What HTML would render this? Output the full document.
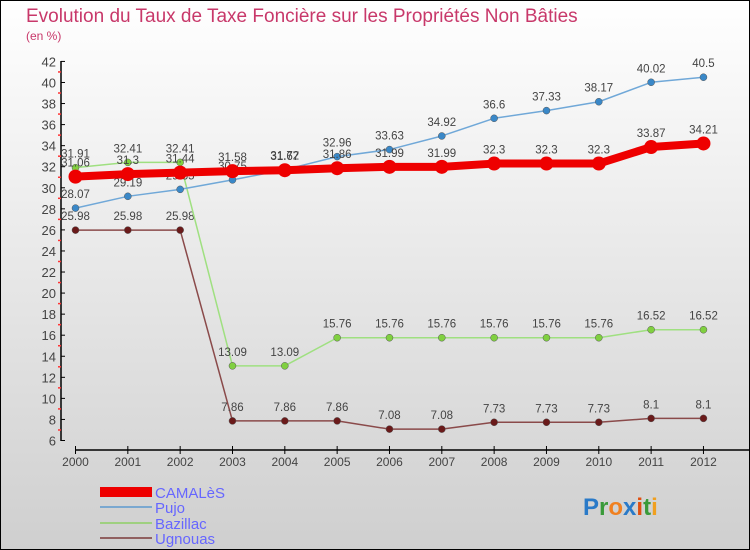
<!DOCTYPE html>
<html><head><meta charset="utf-8"><style>
body{margin:0;width:750px;height:550px;overflow:hidden;font-family:"Liberation Sans",sans-serif}
svg{display:block}
</style></head><body>
<svg id="chart" width="750" height="550" xmlns="http://www.w3.org/2000/svg">
<defs><linearGradient id="bg" x1="0" y1="0" x2="0" y2="1"><stop offset="0" stop-color="#ffffff"/><stop offset="1" stop-color="#cfcfcf"/></linearGradient></defs>
<rect x="0.5" y="0.5" width="749" height="549" fill="url(#bg)" stroke="#000"/>
<text x="26" y="22" font-size="19" fill="#c8386a">Evolution du Taux de Taxe Foncière sur les Propriétés Non Bâties</text>
<text x="26" y="40" font-size="12" fill="#c8386a">(en %)</text>
<g id="axes"></g><g id="series"></g>
<g>
<rect x="100" y="487" width="52" height="10" fill="#e00"/>
<line x1="100" y1="507" x2="152" y2="507" stroke="#7aa8d0" stroke-width="2"/>
<line x1="100" y1="523" x2="152" y2="523" stroke="#9fd080" stroke-width="2"/>
<line x1="100" y1="538" x2="152" y2="538" stroke="#906060" stroke-width="2"/>
<g font-size="15" fill="#6666ff">
<text x="155" y="498">CAMALèS</text>
<text x="155" y="513">Pujo</text>
<text x="155" y="529">Bazillac</text>
<text x="155" y="544">Ugnouas</text>
</g></g>
<g font-size="24" font-weight="bold">
<text x="583" y="515"><tspan fill="#2a7ac8">P</tspan><tspan fill="#3a9a3a">r</tspan><tspan fill="#f08020">o</tspan><tspan fill="#2a7ac8">x</tspan><tspan fill="#e05010">i</tspan><tspan fill="#3a9a3a">t</tspan><tspan fill="#f0a020">i</tspan></text>
</g>
</svg>
<script>
const years=[2000,2001,2002,2003,2004,2005,2006,2007,2008,2009,2010,2011,2012];
const camales=[31.06,31.3,31.44,31.58,31.67,31.86,31.99,31.99,32.3,32.3,32.3,33.87,34.21];
const pujo=[28.07,29.19,29.85,30.75,31.72,32.96,33.63,34.92,36.6,37.33,38.17,40.02,40.5];
const bazillac=[31.91,32.41,32.41,13.09,13.09,15.76,15.76,15.76,15.76,15.76,15.76,16.52,16.52];
const ugnouas=[25.98,25.98,25.98,7.86,7.86,7.86,7.08,7.08,7.73,7.73,7.73,8.1,8.1];
const yTicks=[6,8,10,12,14,16,18,20,22,24,26,28,30,32,34,36,38,40,42];
const NS="http://www.w3.org/2000/svg";
const x=i=>75.5+i*52.33;
const y=v=>440.5-(v-6)*10.53;
function mk(t,a,p){const e=document.createElementNS(NS,t);for(const k in a)e.setAttribute(k,a[k]);p.appendChild(e);return e;}
const ax=document.getElementById('axes');
let l=mk('line',{x1:61,y1:61,x2:61,y2:441,stroke:'#000','stroke-width':1.5},ax);


yTicks.forEach((v,k)=>{
 mk('line',{x1:61,y1:y(v),x2:65,y2:y(v),stroke:'#000'},ax);
 if(k<yTicks.length-1) mk('line',{x1:58,y1:y(v+1),x2:61,y2:y(v+1),stroke:'#f33','stroke-width':1.5},ax);
 const t=mk('text',{x:56,y:y(v)+5,'text-anchor':'end','font-size':13,fill:'#444'},ax);t.textContent=v;
 
 
});
l=mk('line',{x1:75,y1:450,x2:750,y2:450,stroke:'#000','stroke-width':1.5},ax);


years.forEach((yr,i)=>{
 mk('line',{x1:x(i),y1:446,x2:x(i),y2:454,stroke:'#000'},ax);
 const t=mk('text',{x:x(i),y:466,'text-anchor':'middle','font-size':12,fill:'#444'},ax);t.textContent=yr;
 
 
});
const sg=document.getElementById('series');
function draw(vals,name,color,dot,w,r){
 const g=mk('g',{},sg);
 
 
 mk('polyline',{points:vals.map((v,i)=>x(i)+','+y(v)).join(' '),fill:'none',stroke:color,'stroke-width':w,'stroke-linejoin':'round'},g);
 vals.forEach((v,i)=>{
  const c=mk('circle',{cx:x(i),cy:y(v),r:r,fill:dot,stroke:dot==='#e00'?'none':'#555','stroke-width':0.5},g);
  
  
  const t=mk('text',{x:x(i),y:y(v)-10,'text-anchor':'middle','font-size':11.5,fill:'#444'},g);t.textContent=v;
  
  
 });
}
draw(ugnouas,'ugnouas','#8a4a4a','#6a1a1a',1.5,3.5);
draw(bazillac,'bazillac','#9fe080','#80d040',1.5,3.5);
draw(pujo,'pujo','#70a8d8','#3a88c8',1.5,3.5);
draw(camales,'camales','#e00','#e00',8,7);
</script>
</body></html>
